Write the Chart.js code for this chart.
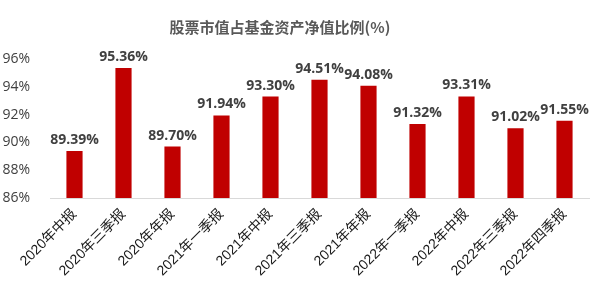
<!DOCTYPE html>
<html>
<head>
<meta charset="utf-8">
<script src="https://cdn.jsdelivr.net/npm/chart.js@4"></script>
<style>
  html, body { margin: 0; padding: 0; background: #fff; }
  #wrap { width: 607px; height: 293px; }
</style>
</head>
<body>
<div id="wrap"><canvas id="myChart" width="607" height="293"></canvas></div>
<script>
// chart data
let categories = ['2020年中报', '2020年三季报', '2020年年报', '2021年一季报', '2021年中报', '2021年三季报',
                  '2021年年报', '2022年一季报', '2022年中报', '2022年三季报', '2022年四季报'];
let values = [89.39, 95.36, 89.70, 91.94, 93.30, 94.51, 94.08, 91.32, 93.31, 91.02, 91.55];
let yTicks = [86, 88, 90, 92, 94, 96];
let title = '股票市值占基金资产净值比例(%)';

// draw value labels over bars + title
let labelPlugin = {
    id: 'labels',
    afterDatasetsDraw: function (chart) {
        let ctx = chart.ctx;
        let meta = chart.getDatasetMeta(0);
        ctx.save();
        ctx.fillStyle = '#404040';
        ctx.font = 'bold 14px "Open Sans", "Noto Sans", sans-serif';
        ctx.textAlign = 'center';
        ctx.textBaseline = 'bottom';
        meta.data.forEach(function (bar, i) {
            ctx.fillText(values[i].toFixed(2) + '%', bar.x, bar.y - 4);
        });
        // title
        ctx.fillStyle = '#595959';
        ctx.font = 'bold 15px "Noto Sans CJK SC", sans-serif';
        ctx.textBaseline = 'middle';
        ctx.fillText(title, 280, 27);
        ctx.restore();
    }
};

var ctx = document.getElementById('myChart').getContext('2d');
var myBar = new Chart(ctx, {
    type: 'bar',
    data: {
        labels: categories,
        datasets: [{
            data: values,
            backgroundColor: '#C00000',
            borderWidth: 0,
            categoryPercentage: 1,
            barPercentage: 0.33
        }]
    },
    options: {
        responsive: false,
        animation: false,
        layout: { padding: { left: 0, right: 18, top: 59, bottom: 0 } },
        plugins: {
            legend: { display: false },
            tooltip: { enabled: false },
            title: { display: false }
        },
        scales: {
            x: {
                grid: { display: false },
                border: { display: true, color: '#d9d9d9', width: 1 },
                ticks: {
                    color: '#1a1a1a',
                    font: { family: '"Liberation Sans", "Noto Sans CJK SC", sans-serif', size: 14 },
                    minRotation: 45,
                    maxRotation: 45,
                    autoSkip: false,
                    padding: 0
                },
                afterFit: function (scale) { scale.height = 95; }
            },
            y: {
                min: 86,
                max: 96,
                afterBuildTicks: function (scale) {
                    scale.ticks = yTicks.map(v => ({ value: v }));
                },
                grid: { display: false },
                border: { display: false },
                ticks: {
                    color: '#404040',
                    font: { family: '"Open Sans", sans-serif', size: 14 },
                    padding: 12,
                    callback: function (v) { return v + '%'; }
                },
                afterFit: function (scale) { scale.width = 50; }
            }
        }
    },
    plugins: [labelPlugin]
});
</script>
</body>
</html>
